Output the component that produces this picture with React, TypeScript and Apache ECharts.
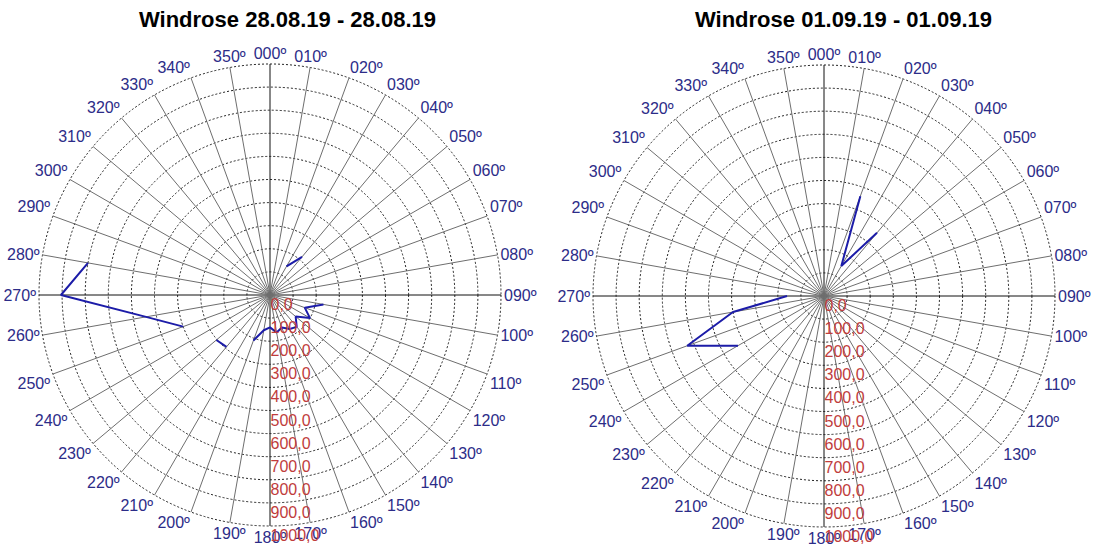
import React, { useEffect, useRef } from "react";
import * as echarts from "echarts";

// Compass directions (degrees) of the wind rose spokes
const directions = [
  0, 10, 20, 30, 40, 50, 60, 70, 80, 90, 100, 110, 120, 130, 140, 150, 160, 170,
  180, 190, 200, 210, 220, 230, 240, 250, 260, 270, 280, 290, 300, 310, 320, 330, 340, 350,
];

// Radius ticks (printed in red along the 180° spoke)
const radiusTicks = [0, 100, 200, 300, 400, 500, 600, 700, 800, 900, 1000];

// Left rose: 28.08.19 (null = no value for that direction)
const leftValues: (number | null)[] = [
  null, null, null, 143, 216, null, null, null, null, null,
  235, 160, 200, 145, 180, 170, 150, 165, 140, 155,
  210, null, 293, 303, null, 400, 545, 905, 800, null,
  null, null, null, null, null, null,
];

// Right rose: 01.09.19
const rightValues: (number | null)[] = [
  null, null, 460, 150, 357, null, null, null, null, null,
  null, null, null, null, null, null, null, null, null, null,
  null, null, null, null, 430, 630, 400, 160, null, null,
  null, null, null, null, null, null,
];

const titles = ["Windrose 28.08.19 - 28.08.19", "Windrose 01.09.19 - 01.09.19"];

const FONT = "Arial, 'Liberation Sans', sans-serif";
const LABEL_BLUE = "#2c2c88";
const LABEL_RED = "#c03c3c";
const LINE_BLUE = "#1c1ca8";

// spoke colours: every 90° darker
const spokeColors = ["#111111", "#6e6e6e", "#6e6e6e", "#6e6e6e", "#6e6e6e", "#6e6e6e", "#6e6e6e", "#6e6e6e", "#6e6e6e"];

function buildOption() {
  const centers = [
    [270, 295],
    [824, 296],
  ];
  const titleLefts = [134, 690];
  const datasets = [leftValues, rightValues];

  const polar = centers.map((c) => ({ center: c, radius: 231 }));

  const angleAxis = centers.map((_, i) => ({
    polarIndex: i,
    type: "value",
    min: 0,
    max: 360,
    interval: 10,
    startAngle: 90,
    clockwise: true,
    axisLine: { show: false },
    axisTick: { show: false },
    axisLabel: {
      show: true,
      margin: 3,
      color: LABEL_BLUE,
      fontSize: 16,
      fontFamily: FONT,
      formatter: (v: number) => (v >= 360 ? "" : String(v).padStart(3, "0") + "\u00BA"),
    },
    splitLine: { show: true, lineStyle: { color: spokeColors, width: 1 } },
  }));

  const radiusAxis = centers.map((_, i) => ({
    polarIndex: i,
    type: "value",
    min: 0,
    max: 1000,
    interval: 100,
    axisLine: { show: false },
    axisTick: { show: false },
    axisLabel: { show: false },
    splitLine: { show: true, lineStyle: { color: "#222", width: 1, type: [2, 2] } },
  }));

  const series: any[] = [];
  datasets.forEach((vals, i) => {
    series.push({
      type: "line",
      coordinateSystem: "polar",
      polarIndex: i,
      symbol: "none",
      connectNulls: false,
      lineStyle: { color: LINE_BLUE, width: 2 },
      data: directions.map((d, k) => [vals[k] == null ? "-" : vals[k], d]),
      z: 5,
    });
    series.push({
      type: "scatter",
      coordinateSystem: "polar",
      polarIndex: i,
      symbol: "circle",
      symbolSize: 1,
      itemStyle: { color: "rgba(0,0,0,0)" },
      silent: true,
      data: radiusTicks.map((t) => [t, 180]),
      label: {
        show: true,
        position: [1, 2],
        color: LABEL_RED,
        fontSize: 16,
        fontFamily: FONT,
        opacity: 1,
        formatter: (p: any) => p.value[0].toFixed(1).replace(".", ","),
      },
      labelLayout: { hideOverlap: false },
      z: 6,
    });
  });

  return {
    animation: false,
    backgroundColor: "#ffffff",
    title: titles.map((t, i) => ({
      text: t,
      left: titleLefts[i],
      top: 3,
      textStyle: { fontSize: 22, fontWeight: "bold", color: "#000", fontFamily: FONT },
    })),
    polar,
    angleAxis,
    radiusAxis,
    series,
  };
}

export default function App() {
  const ref = useRef<HTMLDivElement>(null);
  useEffect(() => {
    if (!ref.current) return;
    const chart = echarts.init(ref.current, null, { renderer: "svg" });
    chart.setOption(buildOption() as any);
    return () => chart.dispose();
  }, []);
  return (
    <div
      ref={ref}
      style={{ position: "absolute", left: 0, top: 0, width: 1094, height: 556, background: "#fff" }}
    />
  );
}
